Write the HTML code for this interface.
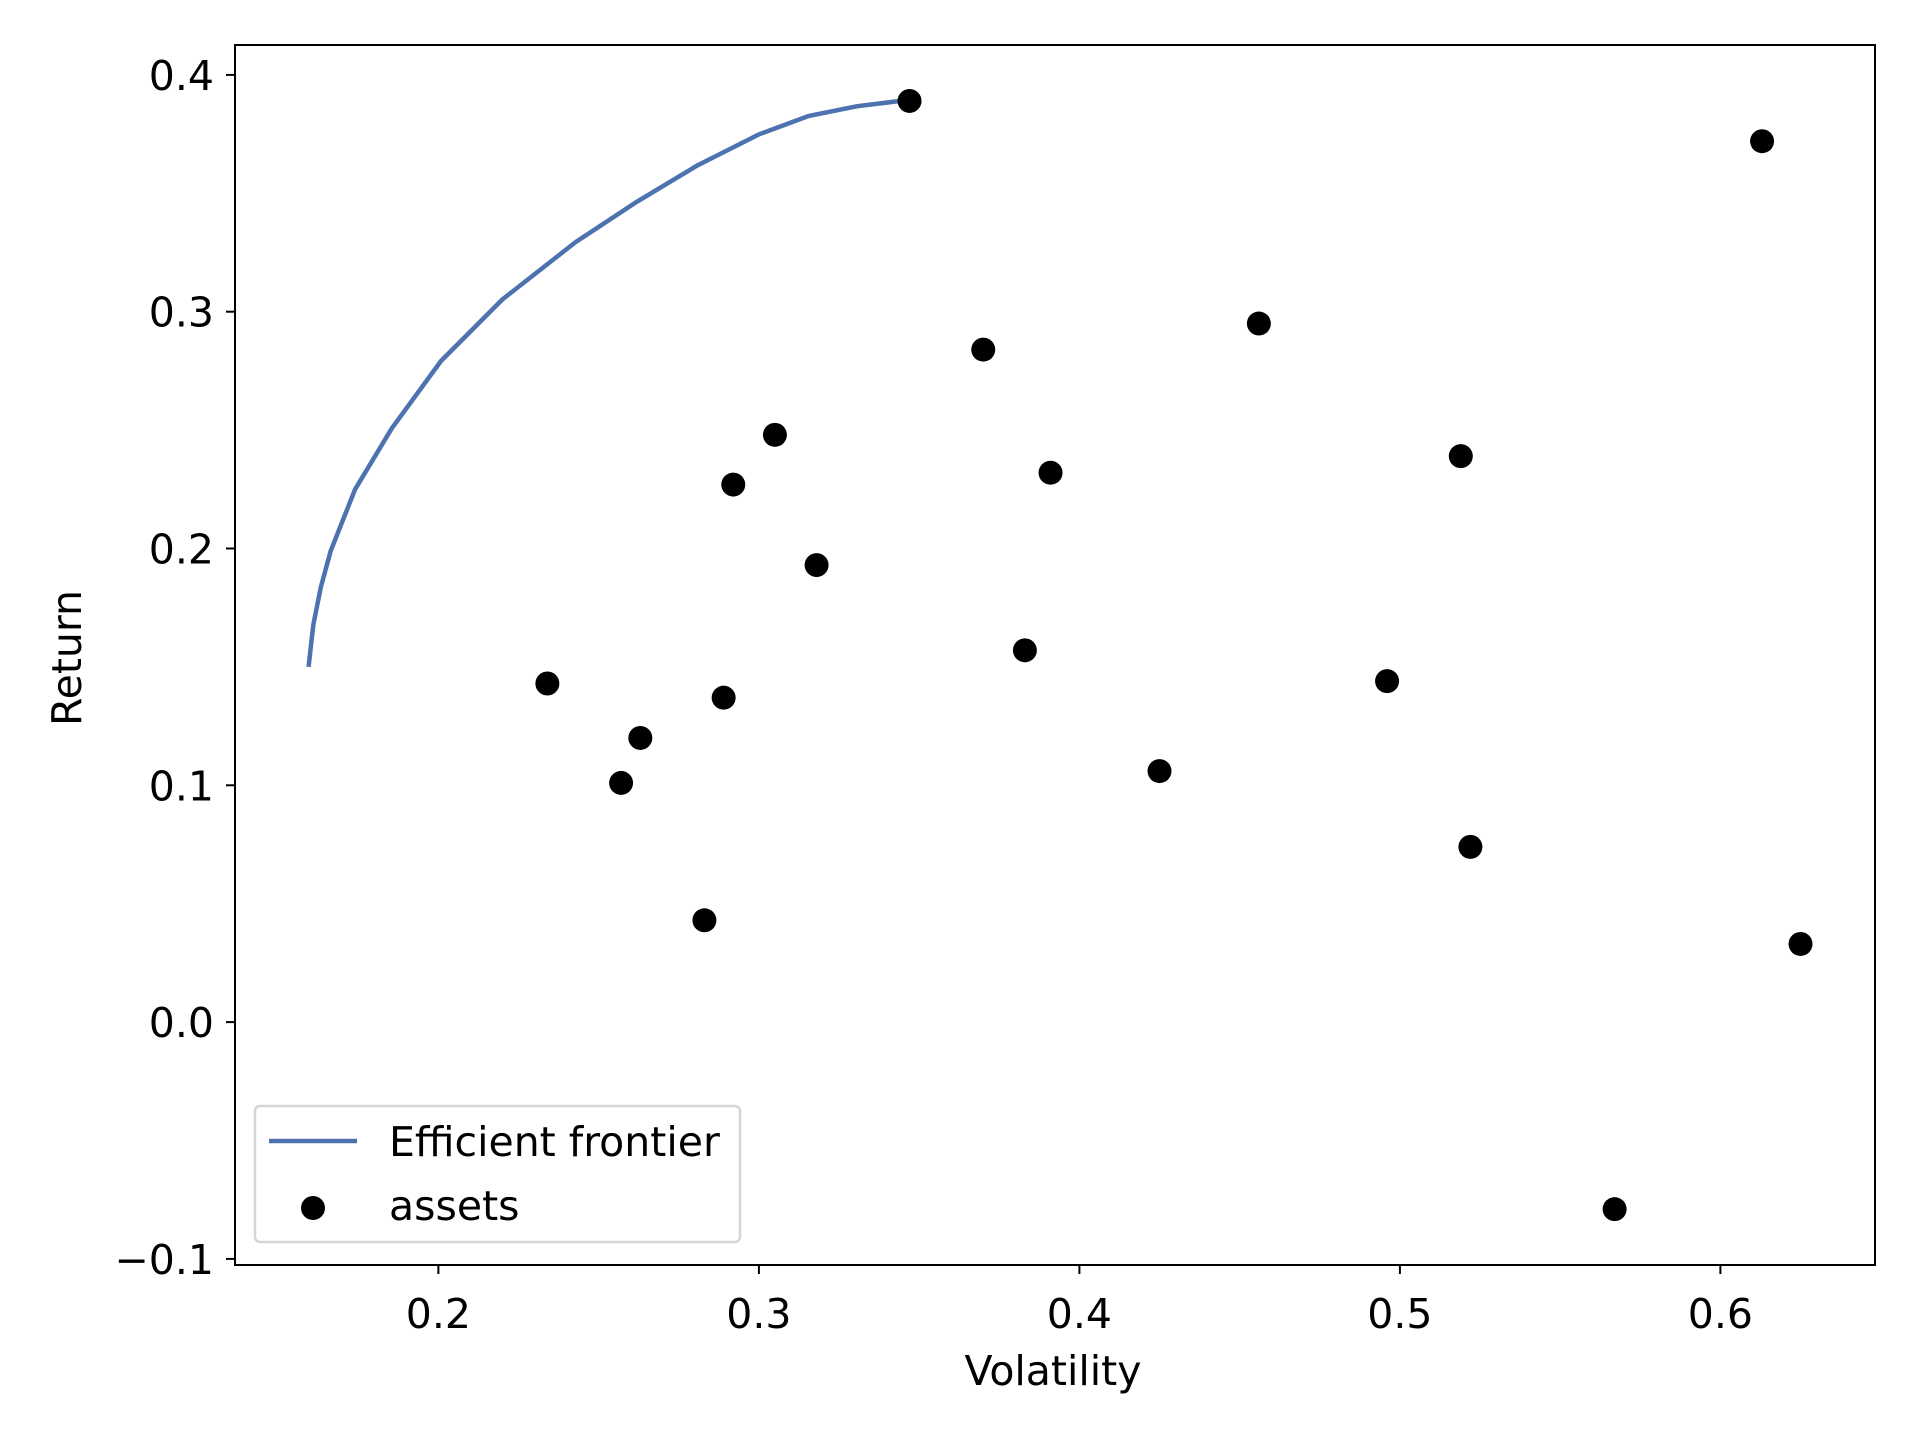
<!DOCTYPE html>
<html><head><meta charset="utf-8"><style>body{margin:0;background:#fff}svg{display:block;font-family:"DejaVu Sans","Liberation Sans",sans-serif}</style></head>
<body>
<svg id="chart" width="1920" height="1440" viewBox="0 0 1920 1440" xmlns="http://www.w3.org/2000/svg">
<rect width="1920" height="1440" fill="#fff"/>
<g id="ticks"></g>
<g id="marks"></g>
<rect x="235" y="45" width="1640" height="1220" fill="none" stroke="#000" stroke-width="2"/>
<text x="1053" y="1385" font-size="41" text-anchor="middle">Volatility</text>
<text transform="translate(81,658) rotate(-90)" font-size="41" text-anchor="middle">Return</text>
<g>
<rect x="255" y="1106" width="485" height="136" rx="5" fill="#fff" stroke="#d5d5d5" stroke-width="2.5"/>
<line x1="269" y1="1141" x2="357" y2="1141" stroke="#4c72b0" stroke-width="4.5"/>
<text x="389" y="1156" font-size="41">Efficient frontier</text>
<circle cx="313" cy="1208" r="12" fill="#000"/>
<text x="389" y="1220" font-size="41">assets</text>
</g>
</svg>
<script>
const xTicks=[0.2,0.3,0.4,0.5,0.6];
const yTicks=[-0.1,0.0,0.1,0.2,0.3,0.4];
const xTickLabels=["0.2","0.3","0.4","0.5","0.6"];
const yTickLabels=["\u22120.1","0.0","0.1","0.2","0.3","0.4"];
const assetVol=[0.347,0.613,0.456,0.370,0.519,0.305,0.391,0.292,0.318,0.383,0.496,0.234,0.289,0.263,0.257,0.425,0.522,0.283,0.625,0.567];
const assetRet=[0.389,0.372,0.295,0.284,0.239,0.248,0.232,0.227,0.193,0.157,0.144,0.143,0.137,0.120,0.101,0.106,0.074,0.043,0.033,-0.079];
const frontierVol=[0.1595,0.1603,0.1610,0.1633,0.1664,0.1740,0.1855,0.2008,0.2199,0.2428,0.2619,0.2810,0.3001,0.3154,0.3307,0.3460];
const frontierRet=[0.150,0.160,0.168,0.1836,0.199,0.225,0.2508,0.2792,0.3051,0.3294,0.3464,0.3619,0.3749,0.3826,0.3868,0.3893];
const NS="http://www.w3.org/2000/svg";
function sx(v){return 438.4+(v-0.2)*3205;}
function sy(v){return 1022.1-v*2368;}
const tg=document.getElementById('ticks'),mg=document.getElementById('marks');
function mk(tag,attrs,parent){const e=document.createElementNS(NS,tag);for(const k in attrs)e.setAttribute(k,attrs[k]);parent.appendChild(e);return e;}
xTicks.forEach((t,i)=>{const x=sx(t);
const l=mk('line',{x1:x,y1:1265,x2:x,y2:1274,stroke:'#000','stroke-width':2},tg);


const tx=mk('text',{x:x,y:1328,'font-size':41,'text-anchor':'middle'},tg);tx.textContent=xTickLabels[i];

});
yTicks.forEach((t,i)=>{const y=sy(t);
const l=mk('line',{x1:226,y1:y,x2:235,y2:y,stroke:'#000','stroke-width':2},tg);


const tx=mk('text',{x:214,y:y+15,'font-size':41,'text-anchor':'end'},tg);tx.textContent=yTickLabels[i];

});
const d=frontierVol.map((v,i)=>(i?'L':'M')+sx(v).toFixed(1)+','+sy(frontierRet[i]).toFixed(1)).join(' ');
const p=mk('path',{d:d,fill:'none',stroke:'#4c72b0','stroke-width':4.5,'stroke-linejoin':'round'},mg);


assetVol.forEach((v,i)=>{const c=mk('circle',{cx:sx(v),cy:sy(assetRet[i]),r:12,fill:'#000'},mg);

});
</script>
</body></html>
